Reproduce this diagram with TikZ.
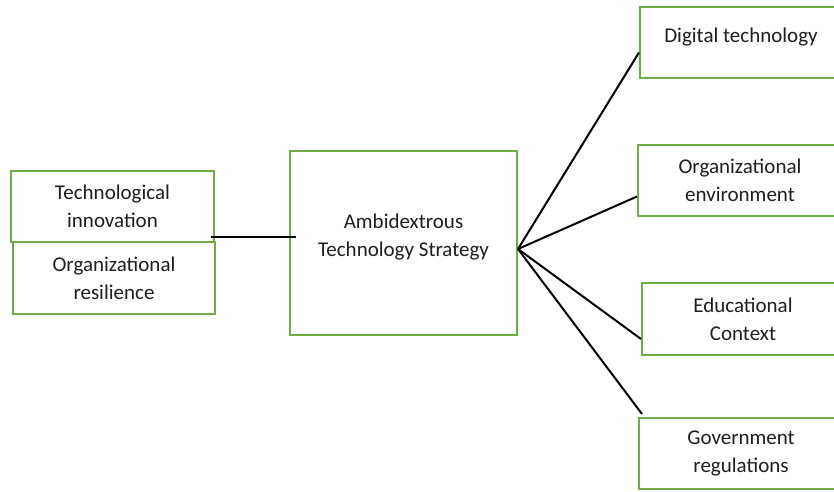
\documentclass[tikz,border=0pt]{standalone}
\usepackage{fontspec}
\setmainfont{Carlito}
\definecolor{boxgreen}{RGB}{112,173,71}
\definecolor{txtgray}{RGB}{30,30,30}

\begin{document}
\begin{tikzpicture}[x=1pt, y=-1pt,
  factor/.style={draw=boxgreen, line width=2pt, inner sep=0pt, align=center,
    text=txtgray, font=\fontsize{21}{28}\selectfont},
  link/.style={line width=2pt, black}]
\useasboundingbox (0, 0) rectangle (834, 491);
\clip (0, 0) rectangle (834, 491);
\node (tech) [factor, minimum width=203pt, minimum height=71pt] at (112.5, 206.5) {Technological\\innovation};
\node (resil) [factor, minimum width=202pt, minimum height=72pt] at (114, 278) {Organizational\\resilience};
\node (amb) [factor, minimum width=227pt, minimum height=184pt] at (403.5, 243) {Ambidextrous\\Technology Strategy\\[-12pt]};
\node (digit) [factor, minimum width=202pt, minimum height=71pt] at (741, 42.5) {Digital technology\\[-14pt]};
\node (env) [factor, minimum width=204pt, minimum height=71pt] at (740, 180.5) {Organizational\\environment};
\node (edu) [factor, minimum width=202pt, minimum height=72pt] at (743, 319) {Educational\\Context};
\node (gov) [factor, minimum width=204pt, minimum height=71pt] at (741, 453.5) {Government\\regulations};
\coordinate (techend) at (211, 237);
\coordinate (ambend) at (296, 237);
\draw [link] (techend) -- (ambend);
\draw [link] ([yshift=-6pt]amb.east) -- ([yshift=-10pt]digit.west);
\draw [link] ([yshift=-6pt]amb.east) -- ([yshift=-16pt]env.west);
\draw [link] ([yshift=-6pt]amb.east) -- ([yshift=-20pt]edu.west);
\draw [link] ([yshift=-6pt]amb.east) -- ([xshift=4pt, yshift=3pt]gov.north west);
\end{tikzpicture}
\end{document}
